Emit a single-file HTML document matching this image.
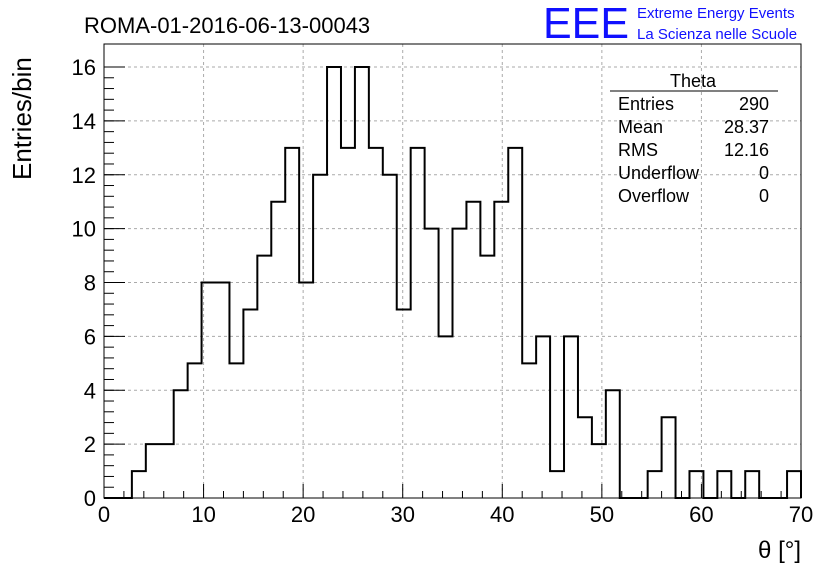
<!DOCTYPE html>
<html><head><meta charset="utf-8"><style>
body{margin:0;background:#fff;}
svg text{font-family:"Liberation Sans",sans-serif;}
</style></head><body>
<svg id="c" width="836" height="572" xmlns="http://www.w3.org/2000/svg">
<rect width="836" height="572" fill="#fff"/>
<text x="84" y="33" font-size="22">ROMA-01-2016-06-13-00043</text>
<text x="543" y="38" font-size="44" fill="#1010ff" textLength="86" lengthAdjust="spacingAndGlyphs">EEE</text>
<text x="637" y="18" font-size="15" fill="#1010ff">Extreme Energy Events</text>
<text x="637" y="39" font-size="15" fill="#1010ff">La Scienza nelle Scuole</text>
<g id="grid"></g>
<g id="axes"></g>
<path id="hist" fill="none" stroke="#000" stroke-width="2"/>
<rect x="104" y="44" width="697" height="454" fill="none" stroke="#000" stroke-width="1"/>
<g>
<line x1="610" y1="91" x2="778" y2="91" stroke="#000"/>
<text x="693" y="87" font-size="18" text-anchor="middle">Theta</text>
<text x="618" y="110" font-size="18">Entries</text><text x="769" y="110" font-size="18" text-anchor="end">290</text>
<text x="618" y="133" font-size="18">Mean</text><text x="769" y="133" font-size="18" text-anchor="end">28.37</text>
<text x="618" y="156" font-size="18">RMS</text><text x="769" y="156" font-size="18" text-anchor="end">12.16</text>
<text x="618" y="179" font-size="18">Underflow</text><text x="769" y="179" font-size="18" text-anchor="end">0</text>
<text x="618" y="202" font-size="18">Overflow</text><text x="769" y="202" font-size="18" text-anchor="end">0</text>
</g>
<text x="801" y="558" font-size="24" text-anchor="end">θ [°]</text>
<text transform="translate(31,180) rotate(-90)" font-size="26">Entries/bin</text>
</svg>
<script>
const counts=[0,0,1,2,2,4,5,8,8,5,7,9,11,13,8,12,16,13,16,13,12,7,13,10,6,10,11,9,11,13,5,6,1,6,3,2,4,0,0,1,3,0,1,0,1,0,1,0,0,1];
const xTicks=[0,10,20,30,40,50,60,70];
const yTicks=[0,2,4,6,8,10,12,14,16];
const binW=1.4;
const X0=104,X1=801,Y0=498,Y1=67;
const sx=v=>X0+(v/70)*(X1-X0);
const sy=v=>Y0-(v/16)*(Y0-Y1);
const NS="http://www.w3.org/2000/svg";
const grid=document.getElementById('grid'),axes=document.getElementById('axes');
function mk(tag,at,parent){const e=document.createElementNS(NS,tag);for(const k in at)e.setAttribute(k,at[k]);parent.appendChild(e);return e;}
xTicks.forEach(t=>{
  const x=sx(t);
  if(t>0&&t<70){const g=mk('line',{x1:x,x2:x,y1:44,y2:498,stroke:'#aaa','stroke-dasharray':'3,3'},grid);
  
  }
  mk('line',{x1:x,x2:x,y1:498,y2:484,stroke:'#000'},axes);
  const l=mk('text',{x:x,y:522,'font-size':22,'text-anchor':'middle'},axes);l.textContent=t;
  
  
});
for(let t=0;t<=70;t+=2){if(t%10)mk('line',{x1:sx(t),x2:sx(t),y1:498,y2:491,stroke:'#000'},axes);}
yTicks.forEach(t=>{
  const y=sy(t);
  if(t>0){const g=mk('line',{x1:104,x2:801,y1:y,y2:y,stroke:'#aaa','stroke-dasharray':'3,3'},grid);
  
  }
  mk('line',{x1:104,x2:125,y1:y,y2:y,stroke:'#000'},axes);
  const l=mk('text',{x:96,y:y+8,'font-size':22,'text-anchor':'end'},axes);l.textContent=t;
  
  
});
for(let t=0;t<16;t+=0.4){const y=sy(t);mk('line',{x1:104,x2:114,y1:y,y2:y,stroke:'#000'},axes);}
let d='M'+sx(0)+','+sy(0);
counts.forEach((c,i)=>{d+=' L'+sx(i*binW)+','+sy(c)+' L'+sx((i+1)*binW)+','+sy(c);});
d+=' L'+sx(70)+','+sy(0);
document.getElementById('hist').setAttribute('d',d);
</script>
</body></html>
